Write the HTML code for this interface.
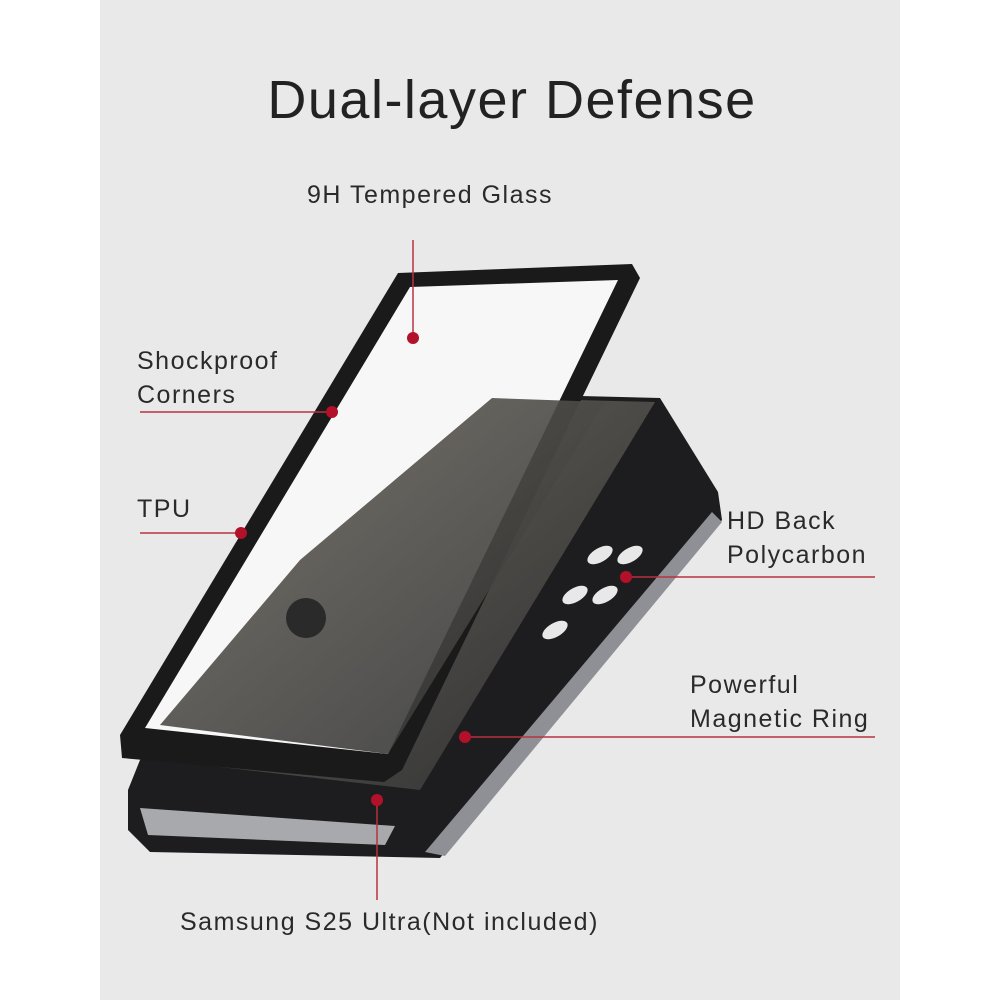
<!DOCTYPE html>
<html><head><style>
html,body{margin:0;padding:0;width:1000px;height:1000px;background:#fff;overflow:hidden}
.p{position:absolute;left:100px;top:0;width:800px;height:1000px;background:#e9e9e9}
.t{position:absolute;font-family:"Liberation Sans",sans-serif;color:#2a2a2a;font-size:25px;line-height:34px;letter-spacing:1.5px}
</style></head><body>
<div class="p"></div>
<svg width="1000" height="1000" style="position:absolute;left:0;top:0">
<defs>
<linearGradient id="scr" x1="0" y1="0" x2="1" y2="1">
<stop offset="0" stop-color="#b7ae8a"/><stop offset="0.35" stop-color="#55524c"/><stop offset="0.8" stop-color="#3a3a3a"/><stop offset="1" stop-color="#c9b89a"/></linearGradient>
</defs>
<!-- phone back / case -->
<polygon points="540,395 660,398 718,492 722,520 440,858 150,852 128,830 128,790 140,760" fill="#1d1d1f"/>
<polygon points="712,512 722,522 445,856 425,852" fill="#8e9096"/>
<polygon points="140,808 395,826 385,845 148,835" fill="#a8a9ad"/>
<g fill="#e8e8e8">
<ellipse cx="600" cy="555" rx="14" ry="7" transform="rotate(-30 600 555)"/>
<ellipse cx="630" cy="555" rx="14" ry="7" transform="rotate(-30 630 555)"/>
<ellipse cx="575" cy="595" rx="14" ry="7" transform="rotate(-30 575 595)"/>
<ellipse cx="605" cy="595" rx="14" ry="7" transform="rotate(-30 605 595)"/>
<ellipse cx="555" cy="630" rx="14" ry="7" transform="rotate(-30 555 630)"/>
</g>
<!-- phone screen -->
<polygon points="492,398 655,402 420,790 160,760" fill="url(#scr)"/>
<!-- front frame -->
<polygon points="398,273 632,264 640,278 402,770 384,782 122,758 120,735" fill="#1a1a1a"/>
<polygon points="410,287 618,280 388,754 145,728" fill="#f7f7f7"/>
<polygon points="492,398 605,402 388,754 160,725 300,560" fill="url(#scr)" opacity="0.9"/>
<circle cx="306" cy="618" r="20" fill="#2a2a2a"/>
<!-- red connectors -->
<g stroke="#b8323f" stroke-width="1.5" fill="none">
<line x1="413" y1="240" x2="413" y2="338"/>
<line x1="140" y1="412" x2="332" y2="412"/>
<line x1="140" y1="533" x2="241" y2="533"/>
<line x1="626" y1="577" x2="875" y2="577"/>
<line x1="465" y1="737" x2="875" y2="737"/>
<line x1="377" y1="800" x2="377" y2="900"/>
</g>
<g fill="#b3102a">
<circle cx="413" cy="338" r="6"/><circle cx="332" cy="412" r="6"/><circle cx="241" cy="533" r="6"/>
<circle cx="626" cy="577" r="6"/><circle cx="465" cy="737" r="6"/><circle cx="377" cy="800" r="6"/>
</g>
</svg>
<div class="t" style="left:0;width:1024px;text-align:center;top:66px;font-size:54px;line-height:68px;color:#222;letter-spacing:1.5px">Dual-layer Defense</div>
<div class="t" style="left:307px;top:178px">9H Tempered Glass</div>
<div class="t" style="left:137px;top:344px">Shockproof<br>Corners</div>
<div class="t" style="left:137px;top:492px">TPU</div>
<div class="t" style="left:727px;top:504px">HD Back<br>Polycarbon</div>
<div class="t" style="left:690px;top:668px">Powerful<br>Magnetic Ring</div>
<div class="t" style="left:180px;top:905px">Samsung S25 Ultra(Not included)</div>
</body></html>
